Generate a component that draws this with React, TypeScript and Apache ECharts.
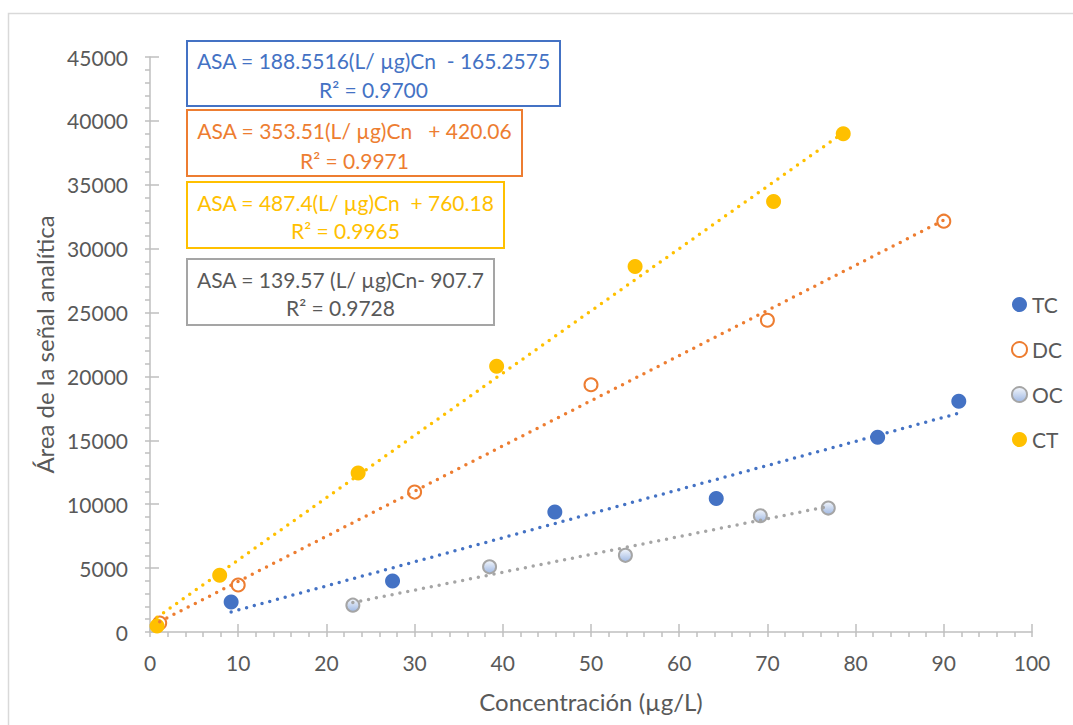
import React, { useEffect, useRef } from "react";
import * as echarts from "echarts";

// ---- data ----
const tcX = [9.2, 27.5, 45.9, 64.2, 82.5, 91.7];
const tcY = [2350, 4000, 9400, 10450, 15250, 18050];
const dcX = [1.1, 10, 30, 50, 70, 90];
const dcY = [700, 3680, 10950, 19350, 24400, 32150];
const ocX = [23, 38.5, 53.9, 69.2, 76.9];
const ocY = [2100, 5100, 6000, 9100, 9700];
const ctX = [0.8, 7.9, 23.6, 39.3, 55, 70.7, 78.6];
const ctY = [470, 4450, 12450, 20800, 28600, 33700, 39000];

// trendline coefficients as printed in the annotation boxes
const tcFit = { slope: 188.5516, icpt: -165.2575 };
const dcFit = { slope: 353.51, icpt: 420.06 };
const ocFit = { slope: 139.57, icpt: -907.7 };
const ctFit = { slope: 487.4, icpt: 760.18 };

const seriesNames = ["TC", "DC", "OC", "CT"];
const xTickLabels = ["0", "10", "20", "30", "40", "50", "60", "70", "80", "90", "100"];
const yTickLabels = ["0", "5000", "10000", "15000", "20000", "25000", "30000", "35000", "40000", "45000"];

const eqLines = [
  ["ASA = 188.5516(L/ µg)Cn  - 165.2575", "R² = 0.9700"],
  ["ASA = 353.51(L/ µg)Cn   + 420.06", "R² = 0.9971"],
  ["ASA = 487.4(L/ µg)Cn  + 760.18", "R² = 0.9965"],
  ["ASA = 139.57 (L/ µg)Cn- 907.7", "R² = 0.9728"],
];

const BLUE = "#4472C4";
const ORANGE = "#ED7D31";
const GRAY = "#A5A5A5";
const YELLOW = "#FFC000";
const TXT = "#595959";
const AXIS = "#BFBFBF";
const FONT = "Lato";

const pairs = (xs: number[], ys: number[]) => xs.map((x, i) => [x, ys[i]]);
const trend = (xs: number[], fit: { slope: number; icpt: number }) => {
  const a = xs[0];
  const b = xs[xs.length - 1];
  return [
    [a, fit.slope * a + fit.icpt],
    [b, fit.slope * b + fit.icpt],
  ];
};

export default function App() {
  const ref = useRef<HTMLDivElement>(null);
  useEffect(() => {
    if (!ref.current) return;
    const chart = echarts.init(ref.current, undefined, { renderer: "svg" });

    const boxes = [
      { x: 187, y: 41, w: 373, h: 65, color: BLUE, text: BLUE, l1: 60, l2: 89 },
      { x: 187, y: 110, w: 335, h: 66, color: ORANGE, text: ORANGE, l1: 130, l2: 160 },
      { x: 187, y: 182, w: 317, h: 66, color: YELLOW, text: YELLOW, l1: 202, l2: 230 },
      { x: 187, y: 259, w: 307, h: 66, color: GRAY, text: TXT, l1: 279, l2: 307 },
    ];
    const graphics: any[] = [
      {
        type: "rect",
        shape: { x: 8.5, y: 13.5, width: 1200, height: 900 },
        style: { fill: "none", stroke: "#D9D9D9", lineWidth: 1.5 },
        silent: true,
        z: -10,
      },
    ];
    boxes.forEach((b, i) => {
      graphics.push({
        type: "rect",
        shape: { x: b.x, y: b.y, width: b.w, height: b.h },
        style: { fill: "#fff", stroke: b.color, lineWidth: 2 },
        z: 100,
      });
      const cx = b.x + b.w / 2;
      [b.l1, b.l2].forEach((ly, j) => {
        graphics.push({
          type: "text",
          x: cx,
          y: ly,
          style: {
            text: eqLines[i][j],
            fill: b.text,
            font: `21px ${FONT}`,
            textAlign: "center",
            textVerticalAlign: "middle",
          },
          z: 101,
        });
      });
    });

    const lbl = { color: TXT, fontFamily: FONT, fontSize: 21 };

    const option: any = {
      animation: false,
      backgroundColor: "#fff",
      textStyle: { fontFamily: FONT },
      grid: { left: 150, top: 57, width: 882, height: 575, containLabel: false },
      legend: {
        data: seriesNames,
        orient: "vertical",
        left: 1011,
        top: 294,
        padding: 0,
        itemWidth: 15,
        itemHeight: 15,
        itemGap: 24,
        icon: "circle",
        textStyle: { color: TXT, fontFamily: FONT, fontSize: 21 },
      },
      xAxis: [
        {
          type: "value",
          min: 0,
          max: 100,
          interval: 10,
          name: "Concentración (µg/L)",
          nameLocation: "middle",
          nameGap: 57,
          nameTextStyle: { color: TXT, fontFamily: FONT, fontSize: 24 },
          axisLine: { show: true, onZero: false, lineStyle: { color: AXIS, width: 1.5 } },
          axisTick: { show: true, inside: true, length: 8, lineStyle: { color: AXIS, width: 1.5 } },
          axisLabel: {
            ...lbl,
            margin: 20,
            formatter: (v: number) => xTickLabels[Math.round(v / 10)] ?? String(v),
          },
          splitLine: { show: false },
        },
        {
          type: "value",
          min: 0,
          max: 100,
          interval: 2,
          position: "bottom",
          offset: 0,
          axisLine: { show: false },
          axisTick: { show: true, inside: false, length: 5, lineStyle: { color: AXIS, width: 1.5 } },
          axisLabel: { show: false },
          splitLine: { show: false },
        },
      ],
      yAxis: [
        {
          type: "value",
          min: 0,
          max: 45000,
          interval: 5000,
          name: "Área de la señal analítica",
          nameLocation: "middle",
          nameGap: 92,
          nameTextStyle: { color: TXT, fontFamily: FONT, fontSize: 24 },
          axisLine: { show: true, onZero: false, lineStyle: { color: AXIS, width: 1.5 } },
          axisTick: { show: true, inside: true, length: 9, lineStyle: { color: AXIS, width: 1.5 } },
          axisLabel: {
            ...lbl,
            margin: 22,
            formatter: (v: number) => yTickLabels[Math.round(v / 5000)] ?? String(v),
          },
          splitLine: { show: false },
        },
        {
          type: "value",
          min: 0,
          max: 45000,
          interval: 1000,
          position: "left",
          offset: 0,
          axisLine: { show: false },
          axisTick: { show: true, inside: false, length: 5, lineStyle: { color: AXIS, width: 1.5 } },
          axisLabel: { show: false },
          splitLine: { show: false },
        },
      ],
      series: [
        {
          name: "TC",
          type: "scatter",
          data: pairs(tcX, tcY),
          symbol: "circle",
          symbolSize: 15,
          itemStyle: { color: BLUE, opacity: 1 },
          z: 3,
        },
        {
          name: "DC",
          type: "scatter",
          data: pairs(dcX, dcY),
          symbol: "circle",
          symbolSize: 13,
          itemStyle: { color: "#ffffff", borderColor: ORANGE, borderWidth: 2, opacity: 1 },
          z: 3,
        },
        {
          name: "OC",
          type: "scatter",
          data: pairs(ocX, ocY),
          symbol: "circle",
          symbolSize: 13,
          itemStyle: {
            color: new echarts.graphic.LinearGradient(0, 0, 0, 1, [
              { offset: 0, color: "#F4F7FC" },
              { offset: 1, color: "#9FB8E3" },
            ]),
            borderColor: GRAY,
            borderWidth: 2,
            opacity: 1,
          },
          z: 3,
        },
        {
          name: "CT",
          type: "scatter",
          data: pairs(ctX, ctY),
          symbol: "circle",
          symbolSize: 15,
          itemStyle: { color: YELLOW, opacity: 1 },
          z: 3,
        },
        ...[
          { n: "TC fit", xs: tcX, fit: tcFit, c: BLUE },
          { n: "DC fit", xs: dcX, fit: dcFit, c: ORANGE },
          { n: "OC fit", xs: ocX, fit: ocFit, c: GRAY },
          { n: "CT fit", xs: ctX, fit: ctFit, c: YELLOW },
        ].map((t) => ({
          name: t.n,
          type: "line",
          data: trend(t.xs, t.fit),
          showSymbol: false,
          symbol: "none",
          silent: true,
          z: 4,
          lineStyle: { color: t.c, width: 3.5, type: [0, 8], cap: "round" },
        })),
      ],
      graphic: graphics,
    };
    chart.setOption(option);
    return () => chart.dispose();
  }, []);
  return (
    <div
      ref={ref}
      style={{ position: "fixed", left: 0, top: 0, width: 1073, height: 725, background: "#fff" }}
    />
  );
}
